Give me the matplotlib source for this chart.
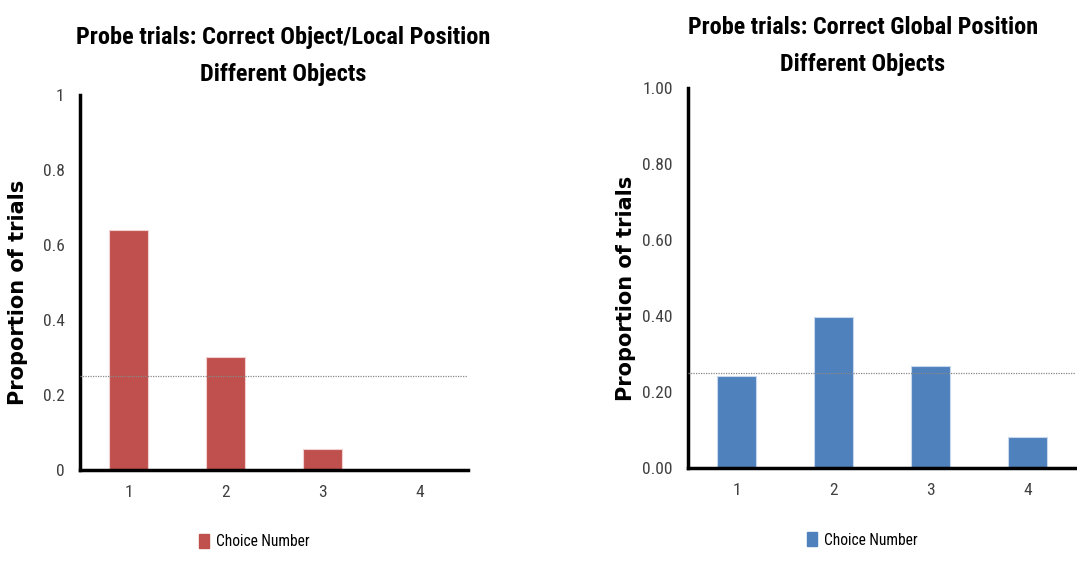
import numpy as np
import matplotlib.pyplot as plt
from matplotlib.patches import Patch
from matplotlib import font_manager

# dados
choices = ["1", "2", "3", "4"]
local_vals = [0.64, 0.30, 0.056, 0.0]
global_vals = [0.242, 0.398, 0.268, 0.082]
chance = 0.25

left_title = "Probe trials: Correct Object/Local Position\nDifferent Objects"
right_title = "Probe trials: Correct Global Position\nDifferent Objects"
left_yticks = [0, 0.2, 0.4, 0.6, 0.8, 1.0]
left_yticklabels = ["0", "0.2", "0.4", "0.6", "0.8", "1"]
right_yticks = [0, 0.2, 0.4, 0.6, 0.8, 1.0]
right_yticklabels = ["0.00", "0.20", "0.40", "0.60", "0.80", "1.00"]

# procurar uma fonte estreita (tipo Calibri)
names = {f.name for f in font_manager.fontManager.ttflist}
narrow = "DejaVu Sans"
for cand in ["Liberation Sans Narrow", "DejaVu Sans Condensed", "Roboto Condensed",
             "Open Sans Condensed", "Noto Sans Condensed", "Carlito"]:
    if cand in names:
        narrow = cand
        break

red = "#C0504D"
blue = "#4F81BD"

fig = plt.figure(figsize=(10.77, 5.61), dpi=100)
ax1 = fig.add_axes([0.0743, 0.1622, 0.3603, 0.6685])
ax2 = fig.add_axes([0.6388, 0.1658, 0.3603, 0.6774])


def painel(ax, vals, cor, yt, ytl):
    x = np.arange(len(choices))
    ax.bar(x, vals, width=0.4, color=cor, edgecolor="#f0d0d0" if cor == red else "#c8d8ee",
           linewidth=0.8, zorder=2)
    ax.axhline(chance, color="#888888", linestyle=(0, (1, 1)), linewidth=0.9, zorder=3)
    ax.set_xlim(-0.5, len(choices) - 0.5)
    ax.set_ylim(0, 1)
    ax.set_xticks(x)
    ax.set_xticklabels(choices, fontfamily=narrow, fontsize=12.5, color="#404040")
    ax.set_yticks(yt)
    ax.set_yticklabels(ytl, fontfamily=narrow, fontsize=12.5, color="#404040")
    ax.tick_params(length=0, pad=11)
    ax.tick_params(axis="x", pad=11)
    for s in ["top", "right"]:
        ax.spines[s].set_visible(False)
    for s in ["left", "bottom"]:
        ax.spines[s].set_linewidth(2.5)
    ax.set_ylabel("Proportion of trials", fontsize=15, fontweight="bold", labelpad=10)
    ax.yaxis.set_label_coords(-0.134, 0.473)
    leg = ax.legend(handles=[Patch(facecolor=cor, edgecolor=cor, label="Choice Number")],
                    loc="upper center", bbox_to_anchor=(0.45, -0.13), frameon=False,
                    handlelength=0.6, handleheight=0.9, handletextpad=0.4,
                    prop={"family": narrow, "size": 12})
    return leg


leg1 = painel(ax1, local_vals, red, left_yticks, left_yticklabels)
leg2 = painel(ax2, global_vals, blue, right_yticks, right_yticklabels)

t1 = fig.text(283 / 1077, 1 - 56 / 561, left_title, ha="center", va="center", fontsize=19,
              fontweight="bold", fontfamily=narrow, linespacing=1.8)
t2 = fig.text(863 / 1077, 1 - 46 / 561, right_title, ha="center", va="center", fontsize=19,
              fontweight="bold", fontfamily=narrow, linespacing=1.8)

# ajustar o tamanho dos títulos à largura do original
r = fig.canvas.get_renderer()
for t, alvo in [(t1, 415), (t2, 350)]:
    w = t.get_window_extent(r).width
    t.set_fontsize(19 * alvo / w)

for leg in [leg1, leg2]:
    txt = leg.get_texts()[0]
    w = txt.get_window_extent(r).width
    txt.set_fontsize(12 * 94 / w)

fig.savefig("out.png", dpi=100)
